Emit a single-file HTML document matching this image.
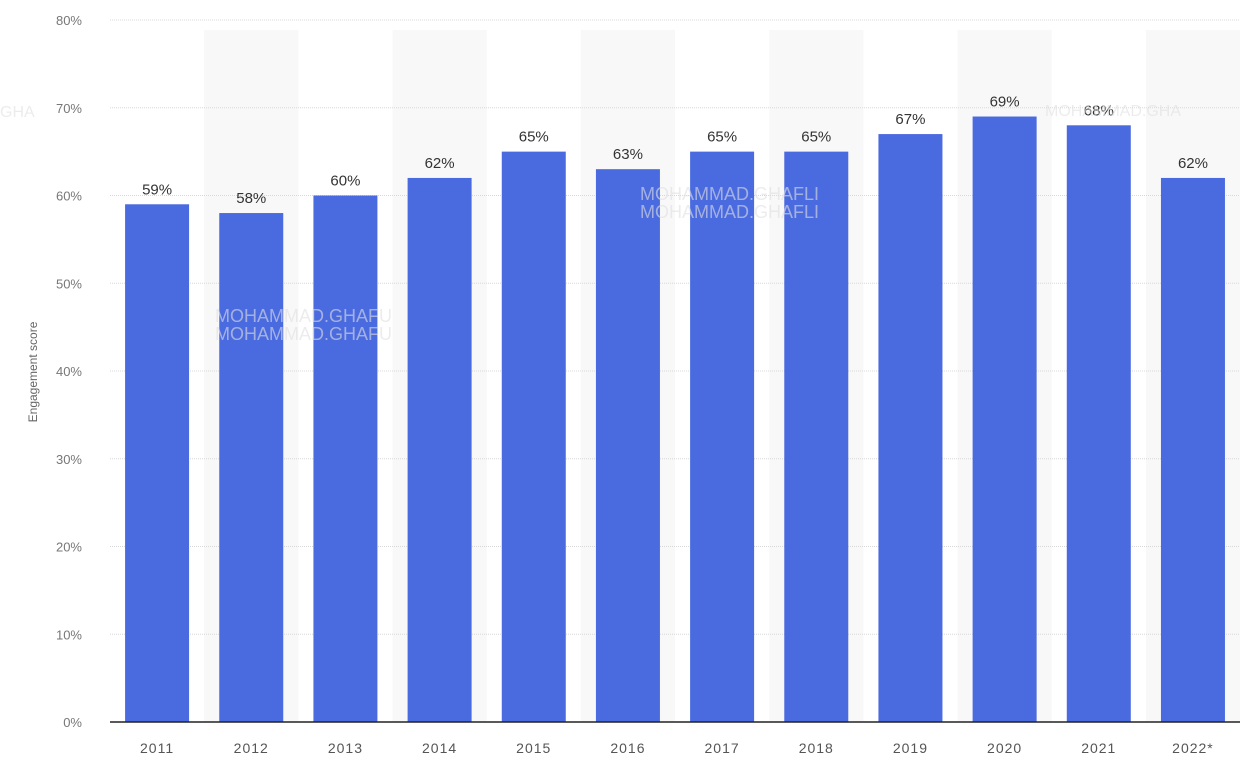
<!DOCTYPE html><html><head><style>body{margin:0;background:#fff}</style></head><body>
<svg width="1253" height="775" xmlns="http://www.w3.org/2000/svg" font-family="Liberation Sans, DejaVu Sans, sans-serif">
<rect width="1253" height="775" fill="#fff"/>
<g id="bands"></g>
<g id="grid"></g>
<g id="bars"></g>
<text transform="translate(37,372) rotate(-90)" text-anchor="middle" font-size="12" fill="#666">Engagement score</text>
<g fill="#e0e0e0" opacity="0.6" font-size="18">
<text x="0" y="117" font-size="16">GHA</text>
<text x="1045" y="116" font-size="16">MOHAMMAD.GHA</text>
<text x="215" y="322">MOHAMMAD.GHAFU</text>
<text x="215" y="340">MOHAMMAD.GHAFU</text>
<text x="640" y="200">MOHAMMAD.GHAFLI</text>
<text x="640" y="218">MOHAMMAD.GHAFLI</text>
</g>
<line x1="110" y1="722" x2="1240" y2="722" stroke="#222" stroke-width="1.5"/>
<script>
var vals=[59,58,60,62,65,63,65,65,67,69,68,62],yrs=["2011","2012","2013","2014","2015","2016","2017","2018","2019","2020","2021","2022*"];
var ns="http://www.w3.org/2000/svg",s=document.querySelector('svg');
function el(t,a,p,txt){var e=document.createElementNS(ns,t);for(var k in a)e.setAttribute(k,a[k]);if(txt)e.textContent=txt;(p||s).appendChild(e);return e;}
var B=document.getElementById('bands'),G=document.getElementById('grid'),R=document.getElementById('bars');
var y0=722,k=8.775,w=94.17;
for(var i=0;i<12;i++)if(i%2==1)el('rect',{x:110+w*i,y:30,width:w,height:692,fill:'#f8f8f8'},B);
for(var v=0;v<=80;v+=10){var y=y0-v*k;if(v>0)el('line',{x1:110,y1:y,x2:1240,y2:y,stroke:'#d8d8d8','stroke-dasharray':'1,1'},G);
el('text',{x:82,y:y+5,'text-anchor':'end','font-size':13,fill:'#777'},G,v+'%');}
for(var i=0;i<12;i++){var c=110+w*(i+0.5),h=vals[i]*k;
el('rect',{x:c-32,y:y0-h,width:64,height:h,fill:'#4a6ae0'},R);
el('text',{x:c,y:y0-h-10,'text-anchor':'middle','font-size':15,fill:'#333'},R,vals[i]+'%');
el('text',{x:c,y:753,'text-anchor':'middle','font-size':14,fill:'#555','letter-spacing':'1'},R,yrs[i]);}
var wm=s.lastElementChild;
</script>
</svg></body></html>
